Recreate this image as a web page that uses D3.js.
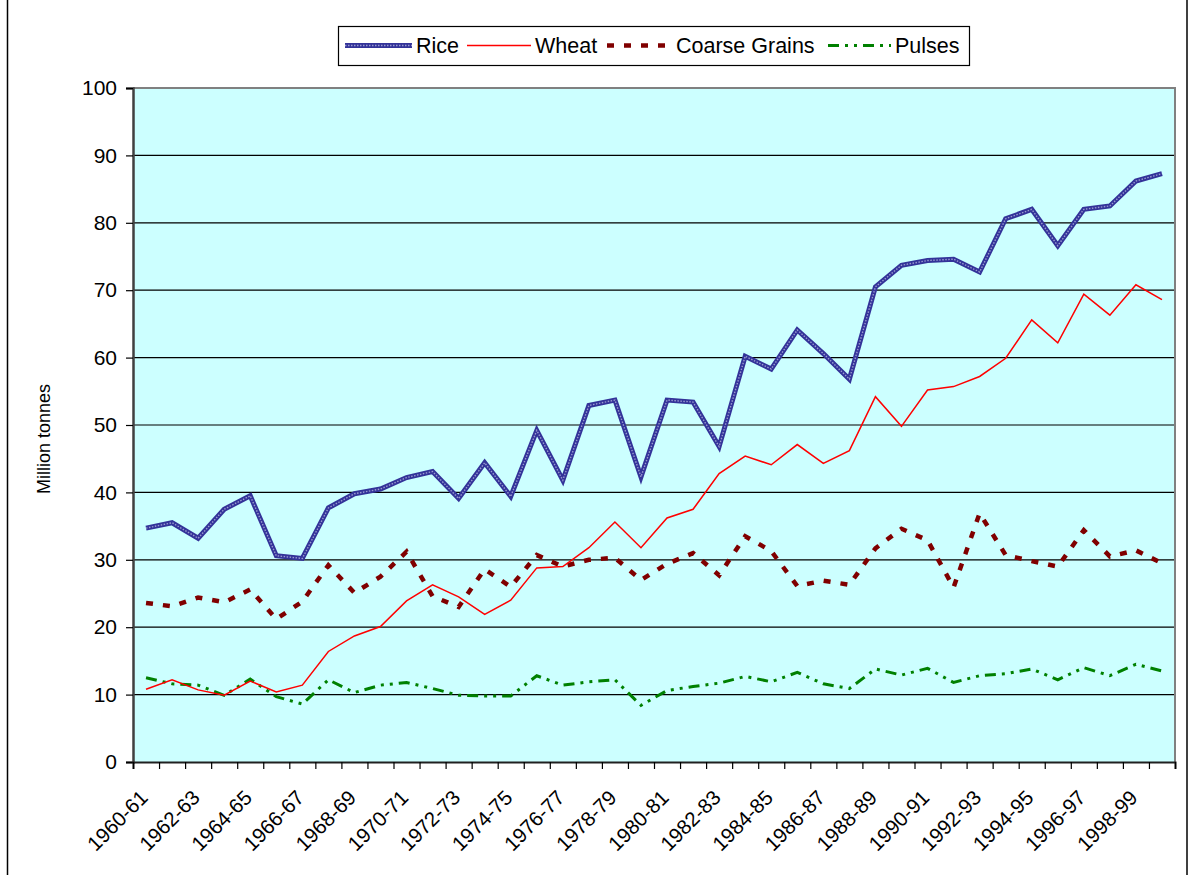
<!DOCTYPE html>
<html>
<head>
<meta charset="utf-8">
<script src="https://cdn.jsdelivr.net/npm/d3@7"></script>
<style>
  body { margin: 0; background: #fff; }
  svg { display: block; font-family: "Liberation Sans", Arial, sans-serif; }
</style>
</head>
<body>
<div id="chart"></div>
<script>
// crop years, 1960-61 .. 1999-00
const years = [
  "1960-61", "1961-62", "1962-63", "1963-64", "1964-65", "1965-66", "1966-67", "1967-68",
  "1968-69", "1969-70", "1970-71", "1971-72", "1972-73", "1973-74", "1974-75", "1975-76",
  "1976-77", "1977-78", "1978-79", "1979-80", "1980-81", "1981-82", "1982-83", "1983-84",
  "1984-85", "1985-86", "1986-87", "1987-88", "1988-89", "1989-90", "1990-91", "1991-92",
  "1992-93", "1993-94", "1994-95", "1995-96", "1996-97", "1997-98", "1998-99", "1999-00"
];

// million tonnes
const rice = [34.7, 35.5, 33.2, 37.5, 39.5, 30.6, 30.2, 37.7, 39.8, 40.5,
  42.2, 43.1, 39.1, 44.4, 39.4, 49.2, 41.8, 52.9, 53.7, 42.3,
  53.7, 53.4, 46.8, 60.2, 58.3, 64.1, 60.6, 56.8, 70.5, 73.7,
  74.4, 74.6, 72.7, 80.6, 82.0, 76.6, 82.0, 82.5, 86.2, 87.3];
const wheat = [10.8, 12.2, 10.7, 9.9, 12.0, 10.4, 11.4, 16.4, 18.7, 20.1,
  23.9, 26.3, 24.5, 21.9, 24.0, 28.8, 29.0, 31.8, 35.6, 31.8,
  36.2, 37.5, 42.8, 45.4, 44.1, 47.1, 44.3, 46.2, 54.2, 49.8,
  55.2, 55.7, 57.2, 59.9, 65.6, 62.2, 69.4, 66.3, 70.8, 68.6];
const coarseGrains = [23.6, 23.1, 24.4, 23.7, 25.6, 21.2, 23.8, 29.2, 25.1, 27.5,
  31.2, 24.6, 23.0, 28.6, 26.0, 30.7, 29.0, 30.0, 30.3, 27.0,
  29.4, 31.0, 27.7, 33.5, 31.3, 26.1, 26.9, 26.3, 31.7, 34.6,
  32.9, 25.9, 36.9, 30.7, 29.8, 29.0, 34.4, 30.5, 31.4, 29.5];
const pulses = [12.5, 11.6, 11.4, 9.9, 12.3, 9.7, 8.6, 12.2, 10.3, 11.4,
  11.8, 10.9, 9.9, 9.8, 9.8, 12.8, 11.4, 11.9, 12.2, 8.4,
  10.6, 11.2, 11.7, 12.7, 11.9, 13.3, 11.6, 10.9, 13.8, 12.9,
  13.9, 11.8, 12.8, 13.1, 13.8, 12.2, 14.0, 12.8, 14.5, 13.5];

const yTicks = [0, 10, 20, 30, 40, 50, 60, 70, 80, 90, 100];
const yLabel = "Million tonnes";

const width = 1191, height = 875;
const marginLeft = 133, marginRight = 16, marginTop = 88, marginBottom = 113;

const series = [
  { name: "Rice", values: rice, color: "#333399", strokeWidth: 5, dash: null, texture: "#9a9ad0" },
  { name: "Wheat", values: wheat, color: "#ff0000", strokeWidth: 1.5, dash: null },
  { name: "Coarse Grains", values: coarseGrains, color: "#800000", strokeWidth: 4.5, dash: "7,10" },
  { name: "Pulses", values: pulses, color: "#008000", strokeWidth: 3, dash: "11,6,3,6,3,6" }
];

const svg = d3.select("#chart").append("svg")
  .attr("width", width)
  .attr("height", height)
  .attr("viewBox", [0, 0, width, height]);

// outer chart frame (only the sides are visible)
svg.append("line").attr("x1", 7.5).attr("x2", 7.5).attr("y1", 0).attr("y2", height)
  .attr("stroke", "#000").attr("stroke-width", 1.5);
svg.append("line").attr("x1", 1187).attr("x2", 1187).attr("y1", 0).attr("y2", height)
  .attr("stroke", "#000").attr("stroke-width", 1.5);

const x = d3.scaleBand(years, [marginLeft, width - marginRight]).padding(0);
const y = d3.scaleLinear([0, 100], [height - marginBottom, marginTop]);
// boundaries between categories, used for the x tick marks
const xEdge = d3.scaleLinear([0, years.length], [marginLeft, width - marginRight]);

// plot area background
svg.append("rect")
  .attr("x", marginLeft).attr("y", y(100))
  .attr("width", width - marginRight - marginLeft)
  .attr("height", y(0) - y(100))
  .attr("fill", "#ccffff");

// gridlines
svg.append("g")
  .selectAll("line")
  .data(yTicks.filter((d) => d > 0 && d < 100))
  .join("line")
  .attr("x1", marginLeft).attr("x2", width - marginRight)
  .attr("y1", (d) => y(d)).attr("y2", (d) => y(d))
  .attr("stroke", "#000").attr("stroke-width", 1.2);

// top and right border of plot area
svg.append("path")
  .attr("d", `M${marginLeft},${y(100)}H${width - marginRight}V${y(0)}`)
  .attr("fill", "none").attr("stroke", "#808080").attr("stroke-width", 2);

// y axis
const yAxis = d3.axisLeft(y).tickValues(yTicks).tickSize(7).tickPadding(9);
svg.append("g")
  .attr("transform", `translate(${marginLeft},0)`)
  .call(yAxis)
  .call((g) => g.select(".domain").attr("stroke", "#404040").attr("stroke-width", 2.5))
  .call((g) => g.selectAll(".tick line").attr("stroke", "#000").attr("stroke-width", 1.2))
  .call((g) => g.selectAll(".tick text").attr("font-size", 21).attr("fill", "#000"));

// x axis: ticks on category boundaries
const xAxis = d3.axisBottom(xEdge).tickValues(d3.range(years.length + 1)).tickSize(7).tickFormat("");
svg.append("g")
  .attr("transform", `translate(0,${y(0)})`)
  .call(xAxis)
  .call((g) => g.select(".domain").attr("stroke", "#202020").attr("stroke-width", 2))
  .call((g) => g.selectAll(".tick line").attr("stroke", "#000").attr("stroke-width", 1.2));

// x labels, every second category, rotated
svg.append("g")
  .selectAll("text")
  .data(years.filter((d, i) => i % 2 === 0))
  .join("text")
  .attr("transform", (d) => `translate(${x(d) + x.bandwidth() / 2 + 3},${y(0) + 37}) rotate(-45)`)
  .attr("text-anchor", "end")
  .attr("font-size", 20.5)
  .attr("fill", "#000")
  .text((d) => d);

// y axis title
svg.append("text")
  .attr("transform", `translate(50,${(y(0) + y(100)) / 2 + 14}) rotate(-90)`)
  .attr("text-anchor", "middle")
  .attr("font-size", 18)
  .text(yLabel);

// lines
const line = (values) => d3.line()
  .x((d, i) => x(years[i]) + x.bandwidth() / 2)
  .y((d) => y(d))(values);

const lines = svg.append("g").attr("fill", "none");
// draw pulses first so the heavier series sit on top
[series[3], series[2], series[1], series[0]].forEach((s) => {
  lines.append("path")
    .attr("d", line(s.values))
    .attr("stroke", s.color)
    .attr("stroke-width", s.strokeWidth)
    .attr("stroke-dasharray", s.dash)
    .attr("stroke-linejoin", "miter");
  if (s.texture) {
    lines.append("path")
      .attr("d", line(s.values))
      .attr("stroke", s.texture)
      .attr("stroke-width", 1.4)
      .attr("stroke-dasharray", "1.5,1.5");
  }
});

// legend
const legend = svg.append("g");
legend.append("rect")
  .attr("x", 338.5).attr("y", 26.5).attr("width", 631).attr("height", 39)
  .attr("fill", "#fff").attr("stroke", "#000").attr("stroke-width", 1.2);

const legendItems = [
  { s: series[0], x0: 345, x1: 412 },
  { s: series[1], x0: 467, x1: 531 },
  { s: series[2], x0: 607, x1: 672 },
  { s: series[3], x0: 828, x1: 891 }
];
const ly = 45.5;
legendItems.forEach(({ s, x0, x1 }) => {
  legend.append("line")
    .attr("x1", x0).attr("x2", x1).attr("y1", ly).attr("y2", ly)
    .attr("stroke", s.color)
    .attr("stroke-width", s.strokeWidth)
    .attr("stroke-dasharray", s.dash);
  if (s.texture) {
    legend.append("line")
      .attr("x1", x0).attr("x2", x1).attr("y1", ly).attr("y2", ly)
      .attr("stroke", s.texture).attr("stroke-width", 1.4).attr("stroke-dasharray", "1.5,1.5");
  }
  legend.append("text")
    .attr("x", x1 + 4).attr("y", ly)
    .attr("dy", "0.36em")
    .attr("font-size", 21.5)
    .text(s.name);
});
</script>
</body>
</html>
